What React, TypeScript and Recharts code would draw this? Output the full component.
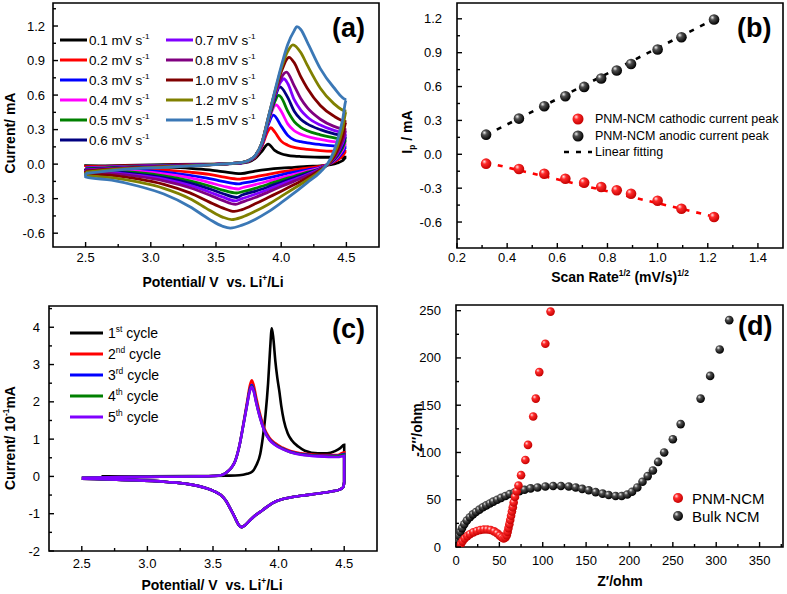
import React from 'react';
import { LineChart, ComposedChart, Line, Scatter, XAxis, YAxis, ReferenceArea, Legend } from 'recharts';

const FONT = '"Liberation Sans", Arial, Helvetica, sans-serif';

// ---------- (a) CV curves at different scan rates ----------
const SCAN_RATES = ['0.1', '0.2', '0.3', '0.4', '0.5', '0.6', '0.7', '0.8', '1.0', '1.2', '1.5'];
const SCAN_COLORS = ['#000000', '#ff0000', '#0000ff', '#ff00ff', '#008000', '#000080', '#8000ff', '#800080', '#800000', '#808000', '#3b78b6'];

// anodic sweep, null = the peak point sits there
const FWD_V = [2.5, 2.8, 3.1, 3.4, 3.6, 3.7, 3.75, 3.8, 3.85, 3.9, 3.95, 4.0, 4.05, 4.1, 4.15, 4.2, 4.3, 4.4, 4.5];
const FWD_I: (number | null)[][] = [
  [-0.02, -0.01, -0.005, 0, 0.003, 0.01, 0.02, 0.05, 0.11, null, 0.12, 0.09, 0.077, 0.07, 0.066, 0.063, 0.06, 0.06, 0.06],
  [-0.025, -0.015, -0.01, -0.003, 0.004, 0.012, 0.025, 0.06, 0.15, 0.29, 0.28, 0.2, 0.165, 0.145, 0.135, 0.128, 0.118, 0.112, 0.11],
  [-0.03, -0.02, -0.012, -0.005, 0.004, 0.012, 0.027, 0.065, 0.16, 0.34, null, 0.33, 0.25, 0.21, 0.195, 0.185, 0.17, 0.158, 0.15],
  [-0.035, -0.022, -0.014, -0.006, 0.004, 0.013, 0.028, 0.067, 0.165, 0.36, null, 0.46, 0.35, 0.29, 0.26, 0.24, 0.215, 0.195, 0.185],
  [-0.04, -0.025, -0.015, -0.006, 0.004, 0.013, 0.029, 0.068, 0.17, 0.37, 0.54, 0.58, 0.46, 0.37, 0.32, 0.29, 0.255, 0.23, 0.215],
  [-0.045, -0.028, -0.017, -0.007, 0.004, 0.014, 0.03, 0.07, 0.17, 0.38, 0.57, null, 0.58, 0.46, 0.39, 0.35, 0.3, 0.265, 0.245],
  [-0.05, -0.03, -0.018, -0.007, 0.004, 0.014, 0.03, 0.07, 0.175, 0.39, 0.59, 0.72, 0.7, 0.56, 0.47, 0.41, 0.34, 0.295, 0.27],
  [-0.055, -0.033, -0.02, -0.008, 0.004, 0.014, 0.031, 0.071, 0.175, 0.39, 0.6, 0.75, null, 0.68, 0.57, 0.49, 0.39, 0.33, 0.3],
  [-0.06, -0.036, -0.022, -0.008, 0.004, 0.015, 0.031, 0.072, 0.18, 0.4, 0.62, 0.8, null, 0.88, 0.76, 0.66, 0.51, 0.42, 0.37],
  [-0.07, -0.04, -0.025, -0.009, 0.004, 0.015, 0.032, 0.073, 0.18, 0.4, 0.62, 0.83, 0.98, null, 0.97, 0.86, 0.66, 0.53, 0.46],
  [-0.08, -0.045, -0.028, -0.01, 0.004, 0.015, 0.032, 0.074, 0.18, 0.4, 0.63, 0.85, 1.04, 1.16, 1.17, 1.06, 0.83, 0.67, 0.56],
];
// cathodic sweep
const REV_V = [4.47, 4.43, 4.38, 4.3, 4.2, 4.1, 4.0, 3.9, 3.8, 3.7, 3.55, 3.45, 3.3, 3.1, 2.9, 2.7, 2.5];
const REV_I: (number | null)[][] = [
  [0.03, 0.01, -0.005, -0.015, -0.02, -0.028, -0.035, -0.045, -0.06, null, -0.065, -0.05, -0.036, -0.026, -0.02, -0.016, -0.013],
  [0.07, 0.035, 0.005, -0.02, -0.035, -0.05, -0.068, -0.088, -0.11, -0.127, -0.11, -0.09, -0.07, -0.05, -0.036, -0.027, -0.022],
  [0.1, 0.05, 0.01, -0.028, -0.05, -0.07, -0.093, -0.12, -0.145, -0.166, -0.15, -0.125, -0.097, -0.07, -0.05, -0.037, -0.03],
  [0.12, 0.06, 0.01, -0.033, -0.06, -0.088, -0.117, -0.148, -0.178, -0.205, -0.19, -0.16, -0.12, -0.085, -0.062, -0.047, -0.038],
  [0.14, 0.07, 0.012, -0.038, -0.07, -0.105, -0.138, -0.175, -0.21, -0.24, -0.225, -0.19, -0.145, -0.102, -0.075, -0.057, -0.046],
  [0.16, 0.08, 0.015, -0.04, -0.08, -0.12, -0.157, -0.198, -0.236, -0.268, -0.255, -0.215, -0.165, -0.117, -0.087, -0.066, -0.054],
  [0.18, 0.09, 0.018, -0.043, -0.09, -0.133, -0.175, -0.22, -0.262, -0.3, -0.285, -0.242, -0.185, -0.13, -0.097, -0.074, -0.06],
  [0.2, 0.1, 0.02, -0.046, -0.1, -0.148, -0.195, -0.243, -0.29, -0.33, -0.315, -0.268, -0.205, -0.145, -0.107, -0.082, -0.067],
  [0.24, 0.12, 0.025, -0.05, -0.118, -0.178, -0.235, -0.29, -0.345, -0.395, -0.38, -0.33, -0.25, -0.175, -0.128, -0.097, -0.08],
  [0.3, 0.15, 0.035, -0.058, -0.138, -0.21, -0.28, -0.35, -0.41, -0.46, -0.46, -0.4, -0.3, -0.21, -0.155, -0.118, -0.095],
  [0.38, 0.2, 0.05, -0.068, -0.16, -0.25, -0.335, -0.415, -0.48, -0.53, -0.54, -0.48, -0.37, -0.26, -0.19, -0.14, -0.11],
];
const ANODIC_PEAK_V = [3.9, 3.92, 3.94, 3.96, 3.98, 3.99, 4.02, 4.04, 4.06, 4.09, 4.12];
const CATHODIC_PEAK_V = [3.69, 3.68, 3.67, 3.67, 3.66, 3.66, 3.65, 3.65, 3.64, 3.62, 3.61];

// ---------- (b) peak currents vs sqrt(scan rate) ----------
const SQRT_RATE = [0.316, 0.447, 0.548, 0.632, 0.707, 0.775, 0.837, 0.894, 1.0, 1.095, 1.225];
const ANODIC_PEAK_I = [0.174, 0.316, 0.426, 0.514, 0.597, 0.671, 0.742, 0.8, 0.928, 1.037, 1.194];
const CATHODIC_PEAK_I = [-0.083, -0.13, -0.172, -0.216, -0.251, -0.29, -0.319, -0.349, -0.411, -0.482, -0.556];
const FIT_X = [0.316, 1.225];
const ANODIC_FIT_Y = [0.17, 1.195];
const CATHODIC_FIT_Y = [-0.072, -0.552];

// ---------- (c) first five cycles ----------
const CYCLE_NUM = ['1', '2', '3', '4', '5'];
const CYCLE_SUFFIX = ['st', 'nd', 'rd', 'th', 'th'];
const CYCLE_COLORS = ['#000000', '#ff0000', '#0000ff', '#008000', '#8000ff'];
const C1_FWD_V = [2.65, 3.0, 3.4, 3.6, 3.7, 3.76, 3.8, 3.83, 3.86, 3.88, 3.9, 3.92, 3.935, 3.948, 3.96, 3.975, 3.99, 4.005, 4.02, 4.04, 4.07, 4.1, 4.15, 4.2, 4.3, 4.37, 4.43, 4.47, 4.5];
const C1_FWD_I = [0.0, 0.0, 0.01, 0.02, 0.03, 0.07, 0.13, 0.3, 0.6, 1.05, 1.65, 2.5, 3.4, 3.97, 3.7, 3.1, 2.65, 2.3, 1.9, 1.5, 1.15, 0.97, 0.8, 0.69, 0.62, 0.62, 0.68, 0.76, 0.85];
const CN_FWD_V = [2.5, 2.8, 3.1, 3.4, 3.5, 3.56, 3.6, 3.64, 3.67, 3.7, 3.73, 3.76, 3.78, 3.795, 3.81, 3.83, 3.86, 3.89, 3.93, 3.97, 4.03, 4.09, 4.17, 4.25, 4.35, 4.45, 4.5];
const CN_FWD_I = [
  [-0.04, -0.02, -0.01, 0.0, 0.01, 0.03, 0.1, 0.23, 0.42, 0.8, 1.38, 2.0, 2.42, 2.58, 2.45, 2.1, 1.65, 1.3, 1.04, 0.9, 0.77, 0.68, 0.62, 0.59, 0.57, 0.57, 0.65],
  [-0.04, -0.02, -0.01, 0.0, 0.01, 0.03, 0.1, 0.23, 0.42, 0.8, 1.36, 1.95, 2.33, 2.45, 2.33, 2.0, 1.58, 1.25, 1.0, 0.87, 0.75, 0.66, 0.6, 0.57, 0.55, 0.55, 0.6],
  [-0.04, -0.02, -0.01, 0.0, 0.01, 0.03, 0.1, 0.23, 0.42, 0.8, 1.35, 1.93, 2.3, 2.42, 2.3, 1.98, 1.56, 1.24, 0.99, 0.86, 0.74, 0.65, 0.59, 0.56, 0.54, 0.54, 0.58],
  [-0.04, -0.02, -0.01, 0.0, 0.01, 0.03, 0.1, 0.23, 0.42, 0.8, 1.35, 1.92, 2.28, 2.4, 2.28, 1.96, 1.55, 1.23, 0.98, 0.85, 0.73, 0.65, 0.58, 0.55, 0.53, 0.52, 0.55],
];
const C_REV_V = [4.5, 4.49, 4.46, 4.42, 4.3, 4.17, 4.04, 3.95, 3.88, 3.81, 3.77, 3.74, 3.72, 3.7, 3.68, 3.66, 3.63, 3.6, 3.56, 3.51, 3.45, 3.3, 3.15, 2.9, 2.7, 2.5];
const C_REV_I = [-0.15, -0.3, -0.36, -0.39, -0.46, -0.52, -0.6, -0.72, -0.9, -1.08, -1.22, -1.32, -1.36, -1.32, -1.2, -1.05, -0.85, -0.66, -0.5, -0.4, -0.32, -0.2, -0.15, -0.1, -0.08, -0.06];

// ---------- (d) Nyquist plots ----------
const PNM_ZRE = [4, 5.5, 7.5, 10, 13, 16, 20, 24, 28, 32, 36, 40, 44, 47.5, 50.5, 53, 55, 57, 58.5, 59.5, 60.5, 61.5, 62.5, 63.5, 64.5, 65.5, 66.5, 68, 70, 72, 75, 80, 83, 89, 92, 96, 103, 109];
const PNM_ZIM = [0.5, 3, 6, 9, 11.5, 13.5, 15.5, 17, 18, 18.5, 18.5, 18, 16.5, 14.5, 12, 10, 9, 10, 12.5, 16, 20, 24, 28.5, 33, 37.5, 42, 47, 53, 59, 65, 76, 92, 108, 138, 157, 185, 215, 249];
const BULK_ZRE = [1, 1.5, 2.5, 3.5, 5, 7, 9.5, 12.5, 16, 19.5, 23, 27, 31, 35, 39, 43, 47.5, 52, 57, 62, 67.5, 73, 79, 86, 94, 103, 112, 121, 130, 138, 145.5, 153, 161, 169, 176, 184, 191, 197.5, 203, 209, 215, 221, 227, 233, 240, 250, 259, 282, 293, 304, 315];
const BULK_ZIM = [1, 4, 8, 12, 16, 20, 24, 28, 31.5, 34.5, 37, 39.5, 42, 44, 46, 48, 50, 52, 54, 56, 57.5, 59, 60.5, 62, 63, 64, 64.5, 64.5, 64, 63, 61.5, 60, 58, 56.5, 55, 54, 54, 55.5, 58.5, 63, 69, 75, 81, 90, 100, 114, 130, 157, 181, 209, 240];

// ---------- tick lists ----------
const CV_X_TICKS = [2.5, 2.75, 3.0, 3.25, 3.5, 3.75, 4.0, 4.25, 4.5];
const A_Y_TICKS = [-0.6, -0.45, -0.3, -0.15, 0, 0.15, 0.3, 0.45, 0.6, 0.75, 0.9, 1.05, 1.2, 1.35];
const B_X_TICKS = [0.2, 0.3, 0.4, 0.5, 0.6, 0.7, 0.8, 0.9, 1.0, 1.1, 1.2, 1.3, 1.4];
const B_Y_TICKS = [-0.75, -0.6, -0.45, -0.3, -0.15, 0, 0.15, 0.3, 0.45, 0.6, 0.75, 0.9, 1.05, 1.2];
const C_Y_TICKS = [-2, -1.5, -1, -0.5, 0, 0.5, 1, 1.5, 2, 2.5, 3, 3.5, 4, 4.5];
const D_X_TICKS = [0, 25, 50, 75, 100, 125, 150, 175, 200, 225, 250, 275, 300, 325, 350, 375];
const D_Y_TICKS = [0, 25, 50, 75, 100, 125, 150, 175, 200, 225, 250];

type Pt = { x: number; y: number };

const toPoints = (xs: number[], ys: (number | null)[]): Pt[] =>
  xs.map((x, k) => ({ x, y: ys[k] as number })).filter((p, k) => ys[k] !== null);

function cvLoop(i: number): Pt[] {
  const fwd = [...toPoints(FWD_V, FWD_I[i]), { x: ANODIC_PEAK_V[i], y: ANODIC_PEAK_I[i] }].sort((a, b) => a.x - b.x);
  const rev = [...toPoints(REV_V, REV_I[i]), { x: CATHODIC_PEAK_V[i], y: CATHODIC_PEAK_I[i] }].sort((a, b) => b.x - a.x);
  return [...fwd, ...rev, fwd[0]];
}

function cycleLoop(i: number): Pt[] {
  const fwd = i === 0 ? toPoints(C1_FWD_V, C1_FWD_I) : toPoints(CN_FWD_V, CN_FWD_I[i - 1]);
  return [...fwd, ...toPoints(C_REV_V, C_REV_I)];
}

const isMajor = (v: number, step: number) => Math.abs(v / step - Math.round(v / step)) < 1e-6;

// inward tick marks, labels only on major ticks
function xTick(step: number, digits: number, dy: number) {
  return (props: any) => {
    const { x, y, payload } = props;
    const v = Number(payload.value);
    const major = isMajor(v, step);
    return (
      <g>
        <line x1={x} x2={x} y1={y} y2={y - (major ? 5 : 3)} stroke="#000" strokeWidth={1.4} />
        {major ? (
          <text x={x} y={y + dy} textAnchor="middle" fontSize={13} fontFamily={FONT} fill="#000">
            {v.toFixed(digits)}
          </text>
        ) : null}
      </g>
    );
  };
}

function yTick(step: number, digits: number, gap: number) {
  return (props: any) => {
    const { x, y, payload } = props;
    const v = Number(payload.value);
    const major = isMajor(v, step);
    return (
      <g>
        <line x1={x} x2={x + (major ? 5 : 3)} y1={y} y2={y} stroke="#000" strokeWidth={1.4} />
        {major ? (
          <text x={x - gap} y={y} dy="0.35em" textAnchor="end" fontSize={13} fontFamily={FONT} fill="#000">
            {v.toFixed(digits)}
          </text>
        ) : null}
      </g>
    );
  };
}

const axisCommon = {
  type: 'number' as const,
  allowDataOverflow: true,
  interval: 0 as const,
  tickSize: 0,
  tickMargin: 0,
  tickLine: false,
  axisLine: false,
};

const SUP: React.CSSProperties = { fontSize: '0.6em', verticalAlign: '0.7em', lineHeight: 0 };
const SUB: React.CSSProperties = { fontSize: '0.6em', verticalAlign: '-0.35em', lineHeight: 0 };

const ball = (id: string, r: number) => (props: any) =>
  <circle cx={props.cx} cy={props.cy} r={r} fill={`url(#${id})`} />;

function Ball({ id, r }: { id: string; r: number }) {
  return <circle cx={15} cy={9} r={r} fill={`url(#${id})`} />;
}

function LegendA() {
  return (
    <div style={{ display: 'grid', gridTemplateColumns: '106px 106px', gridTemplateRows: 'repeat(6, 20px)', gridAutoFlow: 'column', fontFamily: FONT, fontSize: 13.5 }}>
      {SCAN_RATES.map((r, i) => (
        <div key={r} style={{ display: 'flex', alignItems: 'center', height: 20, whiteSpace: 'nowrap' }}>
          <svg width={28} height={20}><line x1={1} x2={28} y1={10} y2={10} stroke={SCAN_COLORS[i]} strokeWidth={3} /></svg>
          <span style={{ marginLeft: 2 }}>{r} mV s<sup style={SUP}>-1</sup></span>
        </div>
      ))}
    </div>
  );
}

function LegendB() {
  const row: React.CSSProperties = { display: 'flex', alignItems: 'center', height: 16.5, whiteSpace: 'nowrap' };
  return (
    <div style={{ fontFamily: FONT, fontSize: 12.5 }}>
      <div style={row}><svg width={30} height={18}><Ball id="ballRed" r={5.5} /></svg><span style={{ marginLeft: 2 }}>PNM-NCM cathodic current peak</span></div>
      <div style={row}><svg width={30} height={18}><Ball id="ballBlack" r={5.5} /></svg><span style={{ marginLeft: 2 }}>PNM-NCM anodic current peak</span></div>
      <div style={row}><svg width={30} height={18}><line x1={1} x2={29} y1={9} y2={9} stroke="#000" strokeWidth={2.6} strokeDasharray="5 7" /></svg><span style={{ marginLeft: 2 }}>Linear fitting</span></div>
    </div>
  );
}

function LegendC() {
  return (
    <div style={{ fontFamily: FONT, fontSize: 14 }}>
      {CYCLE_NUM.map((n, i) => (
        <div key={n} style={{ display: 'flex', alignItems: 'center', height: 21, whiteSpace: 'nowrap' }}>
          <svg width={35} height={20}><line x1={1} x2={34} y1={10} y2={10} stroke={CYCLE_COLORS[i]} strokeWidth={3} /></svg>
          <span style={{ marginLeft: 4 }}>{n}<sup style={SUP}>{CYCLE_SUFFIX[i]}</sup> cycle</span>
        </div>
      ))}
    </div>
  );
}

function LegendD() {
  const row: React.CSSProperties = { display: 'flex', alignItems: 'center', height: 18, whiteSpace: 'nowrap' };
  return (
    <div style={{ fontFamily: FONT, fontSize: 15 }}>
      <div style={row}><svg width={30} height={18}><Ball id="ballRed" r={5} /></svg><span style={{ marginLeft: -1 }}>PNM-NCM</span></div>
      <div style={row}><svg width={30} height={18}><Ball id="ballBlack" r={5} /></svg><span style={{ marginLeft: -1 }}>Bulk NCM</span></div>
    </div>
  );
}

function PanelA() {
  return (
    <LineChart width={395} height={295} margin={{ top: 3, right: 16, bottom: 18, left: 3 }}>
      <XAxis {...axisCommon} dataKey="x" domain={[2.25, 4.75]} ticks={CV_X_TICKS} height={30} tick={xTick(0.5, 1, 15)} />
      <YAxis {...axisCommon} dataKey="y" domain={[-0.72, 1.4]} ticks={A_Y_TICKS} width={50} tick={yTick(0.3, 1, 8)} />
      {SCAN_RATES.map((r, i) => (
        <Line key={r} data={cvLoop(i)} dataKey="y" type="monotone" stroke={SCAN_COLORS[i]} strokeWidth={2.8}
          dot={false} activeDot={false} isAnimationActive={false} />
      ))}
      <ReferenceArea x1={2.25} x2={4.75} y1={-0.72} y2={1.4} fill="none" stroke="#000" strokeWidth={1.6} />
      <Legend layout="vertical" align="center" verticalAlign="middle" wrapperStyle={{ left: 59, top: 30 }} content={() => <LegendA />} />
    </LineChart>
  );
}

function PanelB() {
  const anodic = SQRT_RATE.map((x, k) => ({ x, y: ANODIC_PEAK_I[k] }));
  const cathodic = SQRT_RATE.map((x, k) => ({ x, y: CATHODIC_PEAK_I[k] }));
  return (
    <ComposedChart width={395} height={295} margin={{ top: 3, right: 4, bottom: 17, left: 5 }}>
      <XAxis {...axisCommon} dataKey="x" domain={[0.2, 1.5]} ticks={B_X_TICKS} height={30} tick={xTick(0.2, 1, 13.5)} />
      <YAxis {...axisCommon} dataKey="y" domain={[-0.83, 1.34]} ticks={B_Y_TICKS} width={60} tick={yTick(0.3, 1, 15)} />
      <Line data={toPoints(FIT_X, ANODIC_FIT_Y)} dataKey="y" type="linear" stroke="#000" strokeWidth={2.6} strokeDasharray="5 7"
        dot={false} activeDot={false} isAnimationActive={false} />
      <Line data={toPoints(FIT_X, CATHODIC_FIT_Y)} dataKey="y" type="linear" stroke="#ff0000" strokeWidth={2.6} strokeDasharray="5 7"
        dot={false} activeDot={false} isAnimationActive={false} />
      <Scatter data={anodic} shape={ball('ballBlack', 5.3)} isAnimationActive={false} />
      <Scatter data={cathodic} shape={ball('ballRed', 5.3)} isAnimationActive={false} />
      <ReferenceArea x1={0.2} x2={1.5} y1={-0.83} y2={1.34} fill="none" stroke="#000" strokeWidth={1.6} />
      <Legend layout="vertical" align="center" verticalAlign="middle" wrapperStyle={{ left: 171, top: 111 }} content={() => <LegendB />} />
    </ComposedChart>
  );
}

function PanelC() {
  return (
    <LineChart width={395} height={297} margin={{ top: 9, right: 18, bottom: 13, left: 4 }}>
      <XAxis {...axisCommon} dataKey="x" domain={[2.25, 4.75]} ticks={CV_X_TICKS} height={30} tick={xTick(0.5, 1, 16.6)} />
      <YAxis {...axisCommon} dataKey="y" domain={[-2, 4.57]} ticks={C_Y_TICKS} width={45} tick={yTick(1, 0, 9)} />
      {CYCLE_NUM.map((n, i) => (
        <Line key={n} data={cycleLoop(i)} dataKey="y" type="monotone" stroke={CYCLE_COLORS[i]} strokeWidth={2.6}
          dot={false} activeDot={false} isAnimationActive={false} />
      ))}
      <ReferenceArea x1={2.25} x2={4.75} y1={-2} y2={4.57} fill="none" stroke="#000" strokeWidth={1.6} />
      <Legend layout="vertical" align="center" verticalAlign="middle" wrapperStyle={{ left: 69, top: 25 }} content={() => <LegendC />} />
    </LineChart>
  );
}

function PanelD() {
  const bulk = BULK_ZRE.map((x, k) => ({ x, y: BULK_ZIM[k] }));
  const pnm = PNM_ZRE.map((x, k) => ({ x, y: PNM_ZIM[k] }));
  return (
    <ComposedChart width={395} height={297} margin={{ top: 8, right: 4, bottom: 17, left: 4 }}>
      <XAxis {...axisCommon} dataKey="x" domain={[0, 377]} ticks={D_X_TICKS} height={30} tick={xTick(50, 0, 17.5)} />
      <YAxis {...axisCommon} dataKey="y" domain={[0, 256]} ticks={D_Y_TICKS} width={60} tick={yTick(50, 0, 15)} />
      <Scatter data={bulk} shape={ball('ballBlack', 4.3)} isAnimationActive={false} />
      <Scatter data={pnm} shape={ball('ballRed', 4.3)} isAnimationActive={false} />
      <ReferenceArea x1={0} x2={377} y1={0} y2={256} fill="none" stroke="#000" strokeWidth={1.6} />
      <Legend layout="vertical" align="center" verticalAlign="middle" wrapperStyle={{ left: 271, top: 192 }} content={() => <LegendD />} />
    </ComposedChart>
  );
}

function HTitle({ cx, base, children }: { cx: number; base: number; children: React.ReactNode }) {
  return (
    <div style={{ position: 'absolute', left: cx, top: base - 14, transform: 'translateX(-50%)', whiteSpace: 'nowrap', fontWeight: 700, fontSize: 14, lineHeight: '16px' }}>
      {children}
    </div>
  );
}

function VTitle({ cx, cy, children }: { cx: number; cy: number; children: React.ReactNode }) {
  return (
    <div style={{ position: 'absolute', left: cx, top: cy, transform: 'translate(-50%, -50%) rotate(-90deg)', whiteSpace: 'nowrap', fontWeight: 700, fontSize: 14, lineHeight: '16px' }}>
      {children}
    </div>
  );
}

function Tag({ x, base, children }: { x: number; base: number; children: React.ReactNode }) {
  return (
    <div style={{ position: 'absolute', left: x, top: base - 26, fontWeight: 700, fontSize: 27, lineHeight: '30px' }}>{children}</div>
  );
}

export default function App() {
  return (
    <div style={{ position: 'absolute', left: 0, top: 0, width: 787, height: 594, background: '#fff', fontFamily: FONT, color: '#000', overflow: 'hidden' }}>
      <svg width={0} height={0} style={{ position: 'absolute' }}>
        <defs>
          <radialGradient id="ballRed" cx="0.4" cy="0.38" r="0.62" fx="0.33" fy="0.3">
            <stop offset="0" stopColor="#ffe4e4" />
            <stop offset="0.35" stopColor="#ff2b2b" />
            <stop offset="1" stopColor="#c40000" />
          </radialGradient>
          <radialGradient id="ballBlack" cx="0.4" cy="0.38" r="0.62" fx="0.33" fy="0.3">
            <stop offset="0" stopColor="#f2f2f2" />
            <stop offset="0.35" stopColor="#505050" />
            <stop offset="1" stopColor="#000000" />
          </radialGradient>
        </defs>
      </svg>
      <div style={{ position: 'absolute', left: 0, top: 0 }}><PanelA /></div>
      <div style={{ position: 'absolute', left: 392, top: 0 }}><PanelB /></div>
      <div style={{ position: 'absolute', left: 0, top: 297 }}><PanelC /></div>
      <div style={{ position: 'absolute', left: 392, top: 297 }}><PanelD /></div>

      <HTitle cx={213} base={288}>Potential/ V&nbsp; vs. Li<sup style={SUP}>+</sup>/Li</HTitle>
      <HTitle cx={620} base={283}>Scan Rate<sup style={SUP}>1/2</sup> (mV/s)<sup style={SUP}>1/2</sup></HTitle>
      <HTitle cx={212} base={591}>Potential/ V&nbsp; vs. Li<sup style={SUP}>+</sup>/Li</HTitle>
      <HTitle cx={620} base={587}>Z′/ohm</HTitle>
      <VTitle cx={10} cy={133}>Current/ mA</VTitle>
      <VTitle cx={407} cy={132}>I<sub style={SUB}>p</sub> / mA</VTitle>
      <VTitle cx={10} cy={438}>Current/ 10<sup style={SUP}>-1</sup>mA</VTitle>
      <VTitle cx={417} cy={430}>-Z′′/ohm</VTitle>

      <Tag x={332} base={39}>(a)</Tag>
      <Tag x={737} base={39}>(b)</Tag>
      <Tag x={332} base={340}>(c)</Tag>
      <Tag x={738} base={337}>(d)</Tag>
    </div>
  );
}
